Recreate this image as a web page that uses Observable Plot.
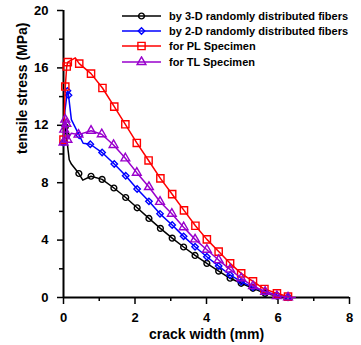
<!DOCTYPE html>
<html><head><meta charset="utf-8">
<script src="https://cdn.jsdelivr.net/npm/d3@7"></script>
<script src="https://cdn.jsdelivr.net/npm/@observablehq/plot@0.6"></script>
<style>
html,body{margin:0;padding:0;background:#fff;}
#wrap{position:relative;width:361px;height:345px;}
#legend{position:absolute;left:122px;top:8px;font:bold 11px "Liberation Sans",Arial,sans-serif;color:#000;}
.row{display:flex;align-items:center;height:15.4px;white-space:nowrap;}
.row svg{margin-right:8px;display:block;}
</style></head><body><div id="wrap"><div id="legend"></div></div>
<script>
// axis ticks
const xDomain = [0, 8];
const yDomain = [0, 20];
const xTicks = [0, 2, 4, 6, 8];
const xMinor = [1, 3, 5, 7];
const yTicks = [0, 4, 8, 12, 16, 20];
const yMinor = [2, 6, 10, 14, 18];
const xLabel = "crack width (mm)";
const yLabel = "tensile stress (MPa)";

// series
const names = ["by 3-D randomly distributed fibers", "by 2-D randomly distributed fibers", "for PL Specimen", "for TL Specimen"];
const colors = ["#000000", "#0000ff", "#ff0000", "#9900cc"];
const symbols = ["circle", "diamond2", "square2", "triangle2"];
const radii = [2.9, 2.9, 4.6, 4.2];

// by 3-D randomly distributed fibers
const crack3D = [0, 0.05, 0.08, 0.16, 0.22, 0.43, 0.54, 0.77, 1.08, 1.41, 1.74, 2.06, 2.39, 2.71, 3.04, 3.36, 3.68, 4.01, 4.34, 4.66, 4.97, 5.30, 5.64, 5.97, 6.28];
const stress3D = [10.8, 11.9, 11.3, 9.6, 9.3, 8.64, 8.18, 8.45, 8.23, 7.63, 6.97, 6.25, 5.51, 4.82, 4.14, 3.52, 2.93, 2.38, 1.84, 1.34, 0.99, 0.64, 0.29, 0.10, 0.01];
const noMark3D = [3, 4, 6];

// by 2-D randomly distributed fibers
const crack2D = [0, 0.04, 0.11, 0.14, 0.22, 0.44, 0.55, 0.75, 1.08, 1.42, 1.74, 2.06, 2.39, 2.70, 3.04, 3.36, 3.68, 4.01, 4.34, 4.66, 4.97, 5.30, 5.64, 5.97, 6.28];
const stress2D = [10.8, 13.0, 14.4, 14.1, 12.4, 11.3, 10.75, 10.68, 10.1, 9.3, 8.48, 7.56, 6.7, 5.83, 5.05, 4.26, 3.54, 2.84, 2.19, 1.57, 1.10, 0.71, 0.40, 0.17, 0.01];
const noMark2D = [1, 4, 6];

// for PL Specimen
const crackPL = [0, 0.05, 0.09, 0.12, 0.33, 0.44, 0.77, 1.09, 1.42, 1.73, 2.05, 2.38, 2.71, 3.04, 3.37, 3.69, 4.01, 4.34, 4.66, 4.97, 5.30, 5.62, 5.97, 6.28];
const stressPL = [11.0, 14.7, 16.1, 16.4, 16.7, 16.3, 15.6, 14.6, 13.3, 12.07, 10.77, 9.55, 8.3, 7.2, 6.07, 5.0, 4.05, 3.2, 2.38, 1.68, 1.12, 0.59, 0.29, 0.06];
const noMarkPL = [4];

// for TL Specimen
const crackTL = [0, 0.02, 0.05, 0.08, 0.11, 0.22, 0.42, 0.77, 1.07, 1.40, 1.73, 2.05, 2.39, 2.70, 3.03, 3.36, 3.68, 4.01, 4.34, 4.66, 4.97, 5.30, 5.64, 5.97, 6.28, 6.48];
const stressTL = [10.8, 11.7, 12.4, 12.1, 11.0, 11.45, 11.35, 11.62, 11.38, 10.63, 9.7, 8.7, 7.7, 6.67, 5.84, 4.9, 4.05, 3.33, 2.61, 1.96, 1.34, 0.80, 0.40, 0.10, 0.01, 0];
const noMarkTL = [5, 25];

const seriesX = [crack3D, crack2D, crackPL, crackTL];
const seriesY = [stress3D, stress2D, stressPL, stressTL];
const seriesNoMark = [noMark3D, noMark2D, noMarkPL, noMarkTL];

const font = '"Liberation Sans", Arial, sans-serif';

const seriesMarks = names.flatMap((name, k) => {
  const rows = seriesX[k].map((x, i) => ({x, y: seriesY[k][i], m: !seriesNoMark[k].includes(i)}));
  return [
    Plot.line(rows, {x: "x", y: "y", stroke: colors[k], strokeWidth: 1.5}),
    Plot.dot(rows.filter(d => d.m), {x: "x", y: "y", symbol: () => symbols[k], r: radii[k], stroke: colors[k], fill: "none", strokeWidth: 1.4})
  ];
});

const chart = Plot.plot({
  width: 361,
  height: 345,
  marginLeft: 63,
  marginRight: 12,
  marginTop: 10,
  marginBottom: 48,
  x: {domain: xDomain},
  y: {domain: yDomain},
  symbol: {type: "identity"},
  style: {fontFamily: font, fontWeight: "bold", fontSize: "13px", color: "#000", background: "#fff", overflow: "visible"},
  marks: [
    Plot.axisX(xTicks, {tickSize: 7, tickPadding: 8, strokeWidth: 1.5, label: null, fontSize: 13, fontWeight: "bold"}),
    Plot.axisX(xMinor, {tickSize: 4, strokeWidth: 1.5, tickFormat: () => "", label: null}),
    Plot.axisY(yTicks, {tickSize: 6, tickPadding: 9, strokeWidth: 1.5, label: null, fontSize: 13, fontWeight: "bold"}),
    Plot.axisY(yMinor, {tickSize: 4, strokeWidth: 1.5, tickFormat: () => "", label: null}),
    Plot.ruleX([xDomain[0]], {strokeWidth: 2}),
    Plot.ruleY([yDomain[0]], {strokeWidth: 2}),
    ...seriesMarks,
    Plot.text([xLabel], {text: d => d, frameAnchor: "bottom", dy: 37, lineAnchor: "middle", fontSize: 14, fontWeight: "bold", fill: "#000"}),
    Plot.text([yLabel], {text: d => d, frameAnchor: "left", dx: -41, rotate: -90, lineAnchor: "middle", fontSize: 14, fontWeight: "bold", fill: "#000"})
  ]
});
const wrap = document.getElementById("wrap");
wrap.insertBefore(chart, wrap.firstChild);

// legend
const legend = document.getElementById("legend");
names.forEach((name, k) => {
  const row = document.createElement("div");
  row.className = "row";
  const sym = {circle: d3.symbolCircle, diamond2: d3.symbolDiamond2, square2: d3.symbolSquare2, triangle2: d3.symbolTriangle2}[symbols[k]];
  const path = d3.symbol(sym, Math.PI * radii[k] * radii[k])();
  row.innerHTML = `<svg width="39" height="12"><line x1="0" x2="39" y1="6" y2="6" stroke="${colors[k]}" stroke-width="1.5"/><path d="${path}" transform="translate(19.5,6)" fill="none" stroke="${colors[k]}" stroke-width="1.4"/></svg><span>${name}</span>`;
  legend.appendChild(row);
});
</script></body></html>
